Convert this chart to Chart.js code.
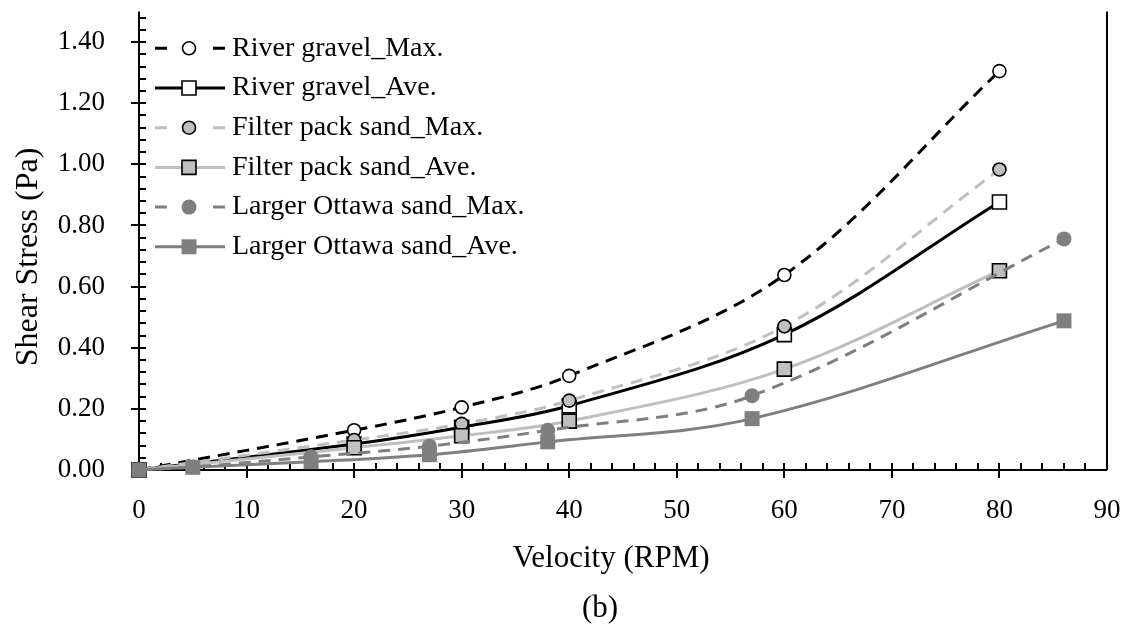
<!DOCTYPE html>
<html>
<head>
<meta charset="utf-8">
<script src="https://cdn.jsdelivr.net/npm/chart.js@4/dist/chart.umd.min.js"></script>
<style>
  html, body { margin: 0; padding: 0; background: #ffffff; }
  #wrap { width: 1131px; height: 626px; }
</style>
</head>
<body>
<div id="wrap"><canvas id="shearChart" width="1131" height="626"></canvas></div>
<script>
// Données (b)
const xGravel = [0, 20, 30, 40, 60, 80];
const gravelMax = [0, 0.13, 0.205, 0.308, 0.638, 1.305];
const gravelAve = [0, 0.085, 0.14, 0.21, 0.443, 0.877];
const filterMax = [0, 0.098, 0.151, 0.227, 0.47, 0.983];
const filterAve = [0, 0.073, 0.112, 0.16, 0.33, 0.652];

const xOttawa = [0, 5, 16, 27, 38, 57, 86];
const ottawaMax = [0, 0.01, 0.043, 0.078, 0.13, 0.243, 0.756];
const ottawaAve = [0, 0.009, 0.027, 0.05, 0.092, 0.168, 0.488];

const seriesLabels = [
  'River gravel_Max.',
  'River gravel_Ave.',
  'Filter pack sand_Max.',
  'Filter pack sand_Ave.',
  'Larger Ottawa sand_Max.',
  'Larger Ottawa sand_Ave.'
];

const xTickValues = [0, 10, 20, 30, 40, 50, 60, 70, 80, 90];
const yTickValues = [0, 0.2, 0.4, 0.6, 0.8, 1.0, 1.2, 1.4];

const serif = "'Liberation Serif', 'Times New Roman', serif";
const colors = {
  black: '#000000',
  light: '#bfbfbf',
  mid: '#7f7f7f',
  white: '#ffffff'
};
const dash = [12, 8];

function toPoints(xs, ys) {
  return xs.map((x, i) => ({ x: x, y: ys[i] }));
}

function makeSeries(i, xs, ys, style) {
  return {
    label: seriesLabels[i],
    data: toPoints(xs, ys),
    borderColor: style.line,
    borderWidth: 3,
    borderDash: style.dashed ? dash : [],
    backgroundColor: style.fill,
    pointStyle: style.shape,
    pointRadius: style.radius,
    pointBackgroundColor: style.fill,
    pointBorderColor: style.edge,
    pointBorderWidth: style.edgeWidth,
    tension: 0.35,
    fill: false,
    clip: false,
    order: 6 - i,
    _legend: style
  };
}

const datasets = [
  makeSeries(0, xGravel, gravelMax, { line: colors.black, dashed: true, shape: 'circle', radius: 6.5, fill: colors.white, edge: colors.black, edgeWidth: 1.6 }),
  makeSeries(1, xGravel, gravelAve, { line: colors.black, dashed: false, shape: 'rect', radius: 9.9, fill: colors.white, edge: colors.black, edgeWidth: 1.6 }),
  makeSeries(2, xGravel, filterMax, { line: colors.light, dashed: true, shape: 'circle', radius: 6.5, fill: colors.light, edge: colors.black, edgeWidth: 1.6 }),
  makeSeries(3, xGravel, filterAve, { line: colors.light, dashed: false, shape: 'rect', radius: 9.9, fill: colors.light, edge: colors.black, edgeWidth: 1.6 }),
  makeSeries(4, xOttawa, ottawaMax, { line: colors.mid, dashed: true, shape: 'circle', radius: 7.5, fill: colors.mid, edge: colors.mid, edgeWidth: 0 }),
  makeSeries(5, xOttawa, ottawaAve, { line: colors.mid, dashed: false, shape: 'rect', radius: 10.6, fill: colors.mid, edge: colors.mid, edgeWidth: 0 })
];

// Axes, graduations mineures et bord droit (style Excel)
const axisPlugin = {
  id: 'axisPlugin',
  beforeDatasetsDraw(chart) {
    const { ctx, chartArea: a, scales } = chart;
    const sx = scales.x;
    const sy = scales.y;
    ctx.save();
    ctx.strokeStyle = colors.black;
    ctx.lineWidth = 2;
    ctx.beginPath();
    ctx.moveTo(a.left, a.top);
    ctx.lineTo(a.left, a.bottom);
    ctx.lineTo(a.right, a.bottom);
    ctx.moveTo(a.right, a.top);
    ctx.lineTo(a.right, a.bottom);

    // graduations x
    for (let v = 0; v <= sx.max + 1e-9; v += 2) {
      const px = Math.round(sx.getPixelForValue(v));
      const major = Math.abs(v % 10) < 1e-9;
      ctx.moveTo(px, a.bottom - 7);
      if (major && v < sx.max) ctx.lineTo(px, a.bottom + 8);
      else ctx.lineTo(px, a.bottom);
    }
    // graduations y
    for (let k = 0; k * 0.04 <= sy.max + 1e-9; k++) {
      const v = k * 0.04;
      const py = Math.round(sy.getPixelForValue(v));
      const major = k % 5 === 0;
      ctx.moveTo(major ? a.left - 8 : a.left, py);
      ctx.lineTo(a.left + 7, py);
    }
    ctx.stroke();
    ctx.restore();
  },
  afterDraw(chart) {
    const { ctx } = chart;
    ctx.save();
    ctx.fillStyle = colors.black;
    ctx.font = '31px ' + serif;
    ctx.textAlign = 'center';
    ctx.textBaseline = 'alphabetic';
    ctx.fillText('Velocity (RPM)', 611, 567);
    ctx.fillText('(b)', 600, 617);
    ctx.font = '32px ' + serif;
    ctx.translate(37, 257);
    ctx.rotate(-Math.PI / 2);
    ctx.fillText('Shear Stress (Pa)', 0, 0);
    ctx.restore();
  }
};

// Légende dessinée dans la zone du graphique
const legendPlugin = {
  id: 'legendPlugin',
  afterDatasetsDraw(chart) {
    const { ctx } = chart;
    const x0 = 155, x1 = 225, xm = 189, xText = 232;
    const rowTop = 48.3, rowStep = 39.7;
    ctx.save();
    chart.data.datasets.forEach((ds, i) => {
      const s = ds._legend;
      const y = rowTop + i * rowStep;
      ctx.strokeStyle = s.line;
      ctx.lineWidth = 3;
      ctx.setLineDash([]);
      ctx.beginPath();
      if (s.dashed) {
        ctx.moveTo(x0, y); ctx.lineTo(x0 + 12, y);
        ctx.moveTo(x1 - 12, y); ctx.lineTo(x1, y);
      } else {
        ctx.moveTo(x0, y); ctx.lineTo(x1, y);
      }
      ctx.stroke();

      ctx.fillStyle = s.fill;
      ctx.strokeStyle = s.edge;
      ctx.lineWidth = s.edgeWidth;
      ctx.beginPath();
      if (s.shape === 'circle') {
        ctx.arc(xm, y, s.radius, 0, Math.PI * 2);
      } else {
        const h = s.radius * Math.SQRT1_2;
        ctx.rect(xm - h, y - h, 2 * h, 2 * h);
      }
      ctx.fill();
      if (s.edgeWidth > 0) ctx.stroke();

      ctx.fillStyle = colors.black;
      ctx.font = '28px ' + serif;
      ctx.textAlign = 'left';
      ctx.textBaseline = 'middle';
      ctx.fillText(ds.label, xText, y);
    });
    ctx.restore();
  }
};

const ctx = document.getElementById('shearChart');
new Chart(ctx, {
  type: 'line',
  data: { datasets: datasets },
  options: {
    responsive: false,
    animation: false,
    events: [],
    layout: { padding: { left: 0, right: 24, top: 7, bottom: 0 } },
    plugins: {
      legend: { display: false },
      tooltip: { enabled: false }
    },
    scales: {
      x: {
        type: 'linear',
        min: 0,
        max: 90,
        grid: { display: false },
        border: { display: false },
        afterBuildTicks: (scale) => { scale.ticks = xTickValues.map(v => ({ value: v })); },
        afterFit: (scale) => { scale.height = 156; scale.paddingLeft = 0; scale.paddingRight = 0; },
        ticks: {
          color: colors.black,
          padding: 17,
          maxRotation: 0,
          autoSkip: false,
          font: { family: serif, size: 27 },
          callback: (v) => String(v)
        }
      },
      y: {
        type: 'linear',
        min: 0,
        max: 1.5,
        grid: { display: false },
        border: { display: false },
        afterBuildTicks: (scale) => { scale.ticks = yTickValues.map(v => ({ value: v })); },
        afterFit: (scale) => { scale.width = 139; scale.paddingTop = 0; scale.paddingBottom = 0; },
        ticks: {
          color: colors.black,
          padding: 26,
          autoSkip: false,
          font: { family: serif, size: 27 },
          callback: (v) => Number(v).toFixed(2)
        }
      }
    }
  },
  plugins: [axisPlugin, legendPlugin]
});
</script>
</body>
</html>
